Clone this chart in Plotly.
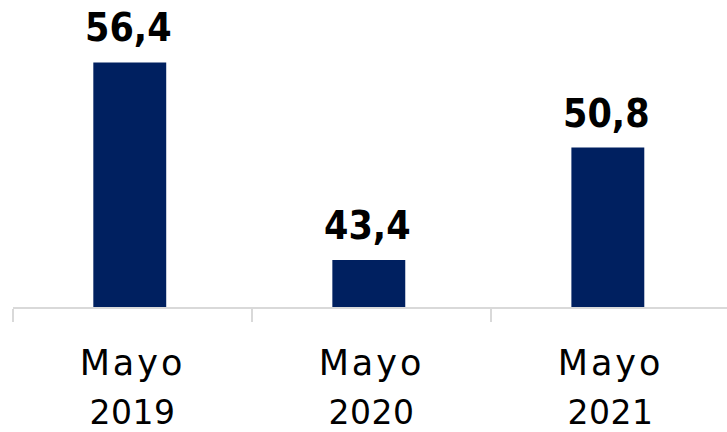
import plotly.graph_objects as go

months = ["Mayo", "Mayo", "Mayo"]
years = ["2019", "2020", "2021"]
values = [56.4, 43.4, 50.8]
value_labels = ["56,4", "43,4", "50,8"]

categories = [f"{m} {y}" for m, y in zip(months, years)]
tick_text = [
    f"<span style='font-size:35px;letter-spacing:3px'>{m}</span><br>"
    f"<span style='font-size:33px;letter-spacing:0.5px'>{y}</span>"
    for m, y in zip(months, years)
]

bar_color = "#002060"
axis_color = "#d9d9d9"

fig = go.Figure()
fig.add_trace(go.Bar(
    x=categories,
    y=values,
    marker=dict(color=bar_color, line=dict(width=0)),
    width=0.305,
    offset=-0.164,
    hoverinfo="skip",
))

for cat, val, lab in zip(categories, values, value_labels):
    fig.add_annotation(
        x=cat, y=val, text=lab, showarrow=False,
        yanchor="bottom", xanchor="center", yshift=10, xshift=-4,
        font=dict(family="DejaVu Sans Condensed", size=39, color="#000000", weight="bold"),
    )

fig.update_layout(
    width=727, height=432,
    margin=dict(l=13, r=0, t=0, b=119),
    paper_bgcolor="white", plot_bgcolor="white",
    showlegend=False,
)
fig.update_xaxes(
    type="category",
    range=[-0.5, 2.487],
    tickvals=categories, ticktext=tick_text,
    showline=True, linecolor=axis_color, linewidth=2,
    ticks="outside", tickson="boundaries", ticklen=13, tickwidth=1.5, tickcolor=axis_color,
    showgrid=False, zeroline=False,
    tickfont=dict(family="DejaVu Sans", size=37, color="#000000"),
    ticklabelstandoff=22,
)
fig.update_yaxes(
    range=[40.30, 60.51],
    visible=False, showgrid=False, zeroline=False,
)

fig.write_html(
    "out.html",
    config={"displayModeBar": False},
    post_script="document.body.style.margin='0';document.documentElement.style.overflow='hidden';",
)
